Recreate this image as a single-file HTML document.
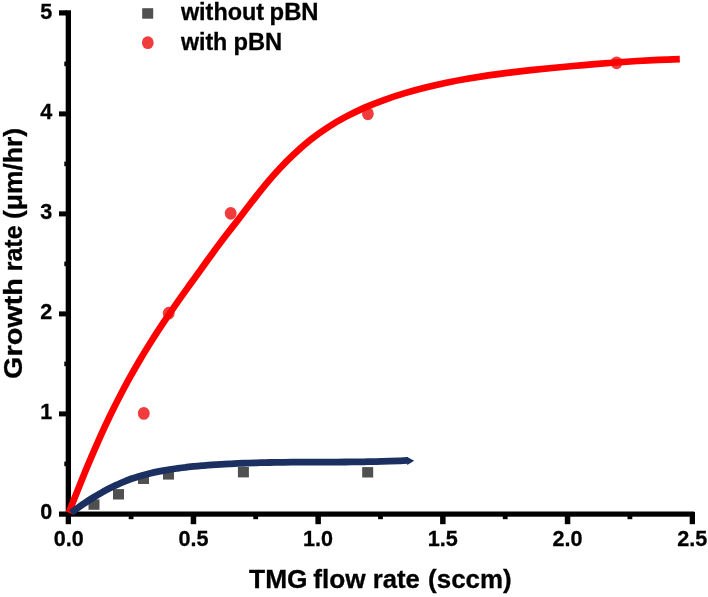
<!DOCTYPE html>
<html><head><meta charset="utf-8"><title>Growth rate vs TMG flow rate</title>
<style>html,body{margin:0;padding:0;background:#fff}svg{display:block}text{font-family:"Liberation Sans",sans-serif;font-weight:bold;fill:#000;stroke:#000;stroke-width:0.3px}</style></head><body>
<svg width="708" height="597" viewBox="0 0 708 597">
<rect width="708" height="597" fill="#fff"/>
<g fill="#000">
<rect x="65.7" y="10.3" width="5.3" height="513.9"/>
<rect x="59" y="511.5" width="635.2" height="5.2"/>
<rect x="59" y="10.3" width="8" height="5.2"/>
<rect x="59" y="411.4" width="8" height="5.0"/>
<rect x="59" y="311.4" width="8" height="5.0"/>
<rect x="59" y="211.4" width="8" height="5.0"/>
<rect x="59" y="111.4" width="8" height="5.0"/>
<rect x="64.3" y="461.6" width="3" height="4.6"/>
<rect x="64.3" y="361.6" width="3" height="4.6"/>
<rect x="64.3" y="261.6" width="3" height="4.6"/>
<rect x="64.3" y="161.6" width="3" height="4.6"/>
<rect x="64.3" y="61.6" width="3" height="4.6"/>
<rect x="190.7" y="514" width="5.5" height="10.2"/>
<rect x="315.4" y="514" width="5.5" height="10.2"/>
<rect x="440.1" y="514" width="5.5" height="10.2"/>
<rect x="564.8" y="514" width="5.5" height="10.2"/>
<rect x="689.7" y="512" width="5.3" height="12.2"/>
<rect x="128.7" y="514" width="4.8" height="5.2"/>
<rect x="253.3" y="514" width="4.8" height="5.2"/>
<rect x="378.1" y="514" width="4.8" height="5.2"/>
<rect x="502.8" y="514" width="4.8" height="5.2"/>
<rect x="627.5" y="514" width="4.8" height="5.2"/>
</g>
<g fill="#505050">
<rect x="88.5" y="499.4" width="11" height="10.4"/>
<rect x="113.0" y="489.1" width="11" height="10.4"/>
<rect x="138.0" y="473.6" width="11" height="10.4"/>
<rect x="163.0" y="469.2" width="11" height="10.4"/>
<rect x="237.9" y="467.0" width="11" height="10.4"/>
<rect x="362.2" y="467.1" width="11" height="10.4"/>
</g>
<g fill="#f03c3c">
<ellipse cx="143.8" cy="413.4" rx="5.9" ry="6.4"/>
<ellipse cx="168.7" cy="313.2" rx="5.9" ry="6.4"/>
<ellipse cx="230.7" cy="213.3" rx="5.9" ry="6.4"/>
<ellipse cx="367.9" cy="113.8" rx="5.9" ry="6.4"/>
<ellipse cx="616.6" cy="62.8" rx="5.9" ry="6.4"/>
</g>
<path d="M68.9 512.7 C70.2 509.3 74.0 499.4 76.7 492.8 C79.3 486.2 81.9 479.6 84.6 473.0 C87.3 466.4 90.1 459.8 92.9 453.3 C95.7 446.8 98.6 440.3 101.5 433.8 C104.5 427.3 107.5 420.9 110.6 414.5 C113.7 408.1 116.9 401.8 120.2 395.5 C123.5 389.2 126.8 382.9 130.3 376.7 C133.7 370.5 137.3 364.3 140.9 358.2 C144.5 352.2 148.2 346.1 152.0 340.2 C155.8 334.2 159.7 328.3 163.6 322.4 C167.5 316.6 171.5 310.7 175.6 304.9 C179.6 299.1 183.7 293.4 187.8 287.6 C191.9 281.9 196.0 276.1 200.2 270.4 C204.3 264.6 208.4 258.9 212.6 253.2 C216.8 247.4 221.1 241.7 225.4 236.0 C229.7 230.4 234.2 224.8 238.5 219.2 C242.9 213.5 247.1 207.9 251.5 202.3 C255.9 196.7 260.2 191.1 264.7 185.6 C269.3 180.1 273.9 174.7 278.8 169.5 C283.6 164.2 288.6 159.1 293.9 154.2 C299.1 149.3 304.4 144.6 310.0 140.1 C315.6 135.7 321.4 131.5 327.3 127.7 C333.2 123.8 339.3 120.2 345.6 116.9 C351.8 113.6 358.2 110.5 364.7 107.6 C371.2 104.8 377.9 102.2 384.6 99.8 C391.3 97.3 398.1 95.1 404.9 93.1 C411.7 91.1 418.7 89.2 425.6 87.5 C432.5 85.8 439.4 84.2 446.4 82.7 C453.4 81.3 460.4 80.0 467.4 78.8 C474.4 77.6 481.4 76.5 488.4 75.4 C495.4 74.4 502.5 73.5 509.5 72.6 C516.6 71.7 523.7 70.9 530.7 70.2 C537.8 69.4 544.9 68.7 552.0 68.0 C559.1 67.3 566.2 66.6 573.3 66.0 C580.4 65.4 587.5 64.7 594.6 64.1 C601.7 63.5 608.8 63.0 615.9 62.5 C623.0 61.9 630.1 61.4 637.2 61.0 C644.3 60.6 651.4 60.2 658.5 59.9 C665.6 59.5 676.2 59.2 679.8 59.1" fill="none" stroke="#ff0000" stroke-width="6.7" stroke-linejoin="round"/>
<path d="M71.1 512.8 C72.3 511.9 75.9 509.2 78.4 507.5 C80.8 505.7 83.3 504.0 85.8 502.4 C88.3 500.7 90.8 499.1 93.4 497.5 C96.0 495.9 98.6 494.4 101.2 492.9 C103.8 491.4 106.4 490.0 109.1 488.6 C111.8 487.2 114.5 485.9 117.2 484.7 C119.9 483.4 122.6 482.3 125.4 481.2 C128.1 480.1 130.9 479.0 133.7 478.1 C136.5 477.1 139.3 476.2 142.1 475.4 C144.9 474.6 147.7 473.9 150.6 473.2 C153.4 472.5 156.3 471.9 159.2 471.3 C162.0 470.7 164.9 470.2 167.8 469.8 C170.7 469.3 173.6 468.9 176.5 468.5 C179.5 468.1 182.4 467.7 185.3 467.4 C188.2 467.0 191.2 466.7 194.1 466.4 C197.1 466.2 200.0 465.9 203.0 465.6 C205.9 465.4 208.9 465.2 211.8 464.9 C214.8 464.7 217.7 464.5 220.7 464.3 C223.7 464.2 226.6 464.0 229.6 463.8 C232.6 463.7 235.6 463.5 238.5 463.4 C241.5 463.3 244.5 463.2 247.5 463.1 C250.5 463.0 253.5 462.9 256.4 462.8 C259.4 462.7 262.4 462.7 265.4 462.6 C268.4 462.5 271.4 462.5 274.4 462.4 C277.4 462.4 280.4 462.4 283.4 462.3 C286.4 462.3 289.3 462.3 292.3 462.2 C295.3 462.2 298.3 462.2 301.3 462.2 C304.3 462.2 307.3 462.2 310.3 462.2 C313.3 462.1 316.3 462.1 319.2 462.1 C322.2 462.1 325.2 462.1 328.2 462.1 C331.2 462.1 334.1 462.1 337.1 462.1 C340.1 462.0 343.1 462.0 346.0 462.0 C349.0 462.0 352.0 461.9 354.9 461.9 C357.9 461.9 360.8 461.8 363.8 461.8 C366.8 461.7 369.7 461.7 372.6 461.6 C375.6 461.6 378.5 461.5 381.5 461.4 C384.4 461.3 387.3 461.2 390.2 461.1 C393.2 461.0 396.1 460.9 399.0 460.8 C401.9 460.7 406.2 460.4 407.7 460.4" fill="none" stroke="#1b3060" stroke-width="6.8" stroke-linejoin="round"/>
<path d="M406.8 456.8 L414.2 460.8 L407.2 465Z" fill="#1b3060"/>
<text x="40.3" y="518.9" font-size="22.6" textLength="12.0" lengthAdjust="spacingAndGlyphs">0</text>
<text x="40.3" y="418.9" font-size="22.6" textLength="12.0" lengthAdjust="spacingAndGlyphs">1</text>
<text x="40.3" y="318.9" font-size="22.6" textLength="12.0" lengthAdjust="spacingAndGlyphs">2</text>
<text x="40.3" y="218.9" font-size="22.6" textLength="12.0" lengthAdjust="spacingAndGlyphs">3</text>
<text x="40.3" y="118.9" font-size="22.6" textLength="12.0" lengthAdjust="spacingAndGlyphs">4</text>
<text x="40.3" y="18.9" font-size="22.6" textLength="12.0" lengthAdjust="spacingAndGlyphs">5</text>
<text x="53.7" y="546.2" font-size="22.6" textLength="30.0" lengthAdjust="spacingAndGlyphs">0.0</text>
<text x="178.4" y="546.2" font-size="22.6" textLength="30.0" lengthAdjust="spacingAndGlyphs">0.5</text>
<text x="303.1" y="546.2" font-size="22.6" textLength="30.0" lengthAdjust="spacingAndGlyphs">1.0</text>
<text x="427.8" y="546.2" font-size="22.6" textLength="30.0" lengthAdjust="spacingAndGlyphs">1.5</text>
<text x="552.5" y="546.2" font-size="22.6" textLength="30.0" lengthAdjust="spacingAndGlyphs">2.0</text>
<text x="677.2" y="546.2" font-size="22.6" textLength="30.0" lengthAdjust="spacingAndGlyphs">2.5</text>
<rect x="142.2" y="8.2" width="11" height="10.5" fill="#505050"/>
<ellipse cx="147.8" cy="42.7" rx="5.9" ry="6.4" fill="#f03c3c"/>
<text x="180.9" y="20.3" font-size="23.0" textLength="83.2" lengthAdjust="spacingAndGlyphs">without</text>
<text x="269.6" y="20.3" font-size="23.0" textLength="49.0" lengthAdjust="spacingAndGlyphs">pBN</text>
<text x="180.9" y="50.1" font-size="23.0" textLength="46.4" lengthAdjust="spacingAndGlyphs">with</text>
<text x="233.5" y="50.1" font-size="23.0" textLength="48.7" lengthAdjust="spacingAndGlyphs">pBN</text>
<text x="249.1" y="588.3" font-size="25.3" textLength="58.5" lengthAdjust="spacingAndGlyphs">TMG</text>
<text x="313.2" y="588.3" font-size="25.3" textLength="52.4" lengthAdjust="spacingAndGlyphs">flow</text>
<text x="372.7" y="588.3" font-size="25.3" textLength="47.1" lengthAdjust="spacingAndGlyphs">rate</text>
<text x="428.1" y="588.3" font-size="25.3" textLength="83.6" lengthAdjust="spacingAndGlyphs">(sccm)</text>
<text transform="translate(21.6 377.7) rotate(-90)" x="-1.2" y="0" font-size="25.3" textLength="100.8" lengthAdjust="spacingAndGlyphs">Growth</text>
<text transform="translate(21.6 269.6) rotate(-90)" x="-1.6" y="0" font-size="25.3" textLength="45.7" lengthAdjust="spacingAndGlyphs">rate</text>
<text transform="translate(21.6 217.8) rotate(-90)" x="-1.3" y="0" font-size="25.3" textLength="91.1" lengthAdjust="spacingAndGlyphs">(μm/hr)</text>
</svg></body></html>
